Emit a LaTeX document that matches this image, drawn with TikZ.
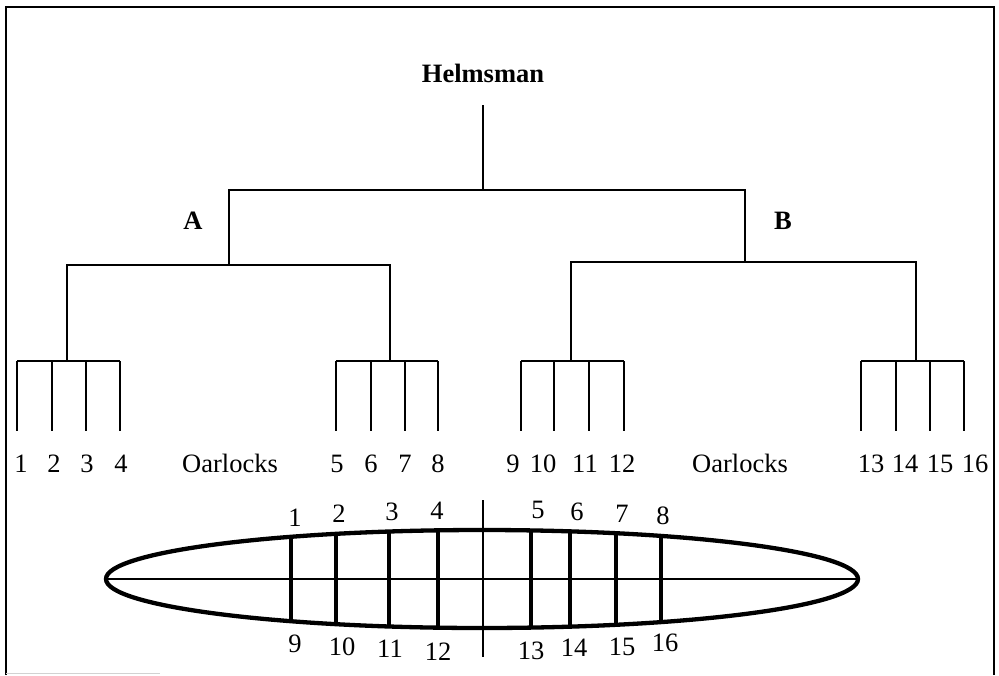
\documentclass[tikz,border=0pt]{standalone}
\usepackage{fontspec}
\setmainfont{Liberation Serif}
\begin{document}
\begin{tikzpicture}[x=1pt,y=-1pt,
  tline/.style={line width=1.2pt},
  hull/.style={line width=4.3pt},
  thwart/.style={line width=3.8pt},
  lbl/.style={font=\fontsize{26.5}{30}\selectfont, inner sep=0pt},
  head/.style={font=\fontsize{26.5}{30}\selectfont\bfseries, inner sep=0pt}]
\useasboundingbox (0,0) rectangle (999,675);
% frame
\coordinate (f1) at (6,675); \coordinate (f2) at (6,7);
\coordinate (f3) at (994,7); \coordinate (f4) at (994,675);
\draw[line width=1.3pt] (f1) -- (f2) -- (f3) -- (f4);
\coordinate (g1) at (6,673); \coordinate (g2) at (160,673);
\draw[gray!35, line width=1pt] (g1) -- (g2);

% tree
\node[head] (helm) at (483,73) {Helmsman};
\coordinate (h0) at (483,105);
\coordinate (h1) at (483,190);
\draw[tline] (h0) -- (h1);
\coordinate (aT) at (229,190); \coordinate (bT) at (745,190);
\coordinate (aB) at (229,265); \coordinate (bB) at (745,262);
\draw[tline] (aB) -- (aT) -- (bT) -- (bB);
\node[head] (A) at (193,221) {A};
\node[head] (B) at (783,221) {B};

\coordinate (l1) at (67,265); \coordinate (l2) at (390,265);
\coordinate (l1b) at (67,361); \coordinate (l2b) at (390,361);
\draw[tline] (l1b) -- (l1) -- (l2) -- (l2b);
\coordinate (r1) at (571,262); \coordinate (r2) at (916,262);
\coordinate (r1b) at (571,361); \coordinate (r2b) at (916,361);
\draw[tline] (r1b) -- (r1) -- (r2) -- (r2b);

% oarlock groups
\foreach \a/\b/\c/\d [count=\g] in {17/52/86/120, 336/371/405/438, 521/554/589/624, 861/896/930/964}{
  \coordinate (ga\g) at (\a,361); \coordinate (gd\g) at (\d,361);
  \draw[tline] (ga\g) -- (gd\g);
  \foreach \x in {\a,\b,\c,\d}{
    \coordinate (ot) at (\x,361); \coordinate (ob) at (\x,431);
    \draw[tline] (ot) -- (ob);
  }
}
\foreach \n/\x in {1/21,2/54,3/87,4/121,5/337,6/371,7/405,8/438,9/513,10/543,11/585,12/622,13/871,14/905,15/940,16/975}{
  \node[lbl, anchor=base] (o\n) at (\x,472) {\n};
}
\node[lbl, anchor=base] (oarL) at (230,472) {Oarlocks};
\node[lbl, anchor=base] (oarR) at (740,472) {Oarlocks};

% boat
\coordinate (bc) at (482,579);
\coordinate (cl1) at (106,579); \coordinate (cl2) at (858,579);
\draw[tline] (cl1) -- (cl2);
\coordinate (cv1) at (483,500); \coordinate (cv2) at (483,657);
\draw[tline] (cv1) -- (cv2);
\foreach \x in {291,336,389,438,531,570,616,661}{
  \pgfmathsetmacro\hh{49*sqrt(1-((\x-482)/376)^2)}
  \coordinate (tt) at (\x,579-\hh); \coordinate (tb) at (\x,579+\hh);
  \draw[thwart] (tt) -- (tb);
}
\draw[hull] (bc) ellipse [x radius=376, y radius=49];

\foreach \n/\x/\y in {1/295/518,2/339/514,3/392/512,4/437/511,5/538/510,6/577/512,7/622/514,8/663/516,
  9/295/644,10/342/647,11/390/649,12/438/652,13/531/651,14/574/648,15/622/647,16/665/643}{
  \node[lbl] (b\n) at (\x,\y) {\n};
}
\end{tikzpicture}
\end{document}
